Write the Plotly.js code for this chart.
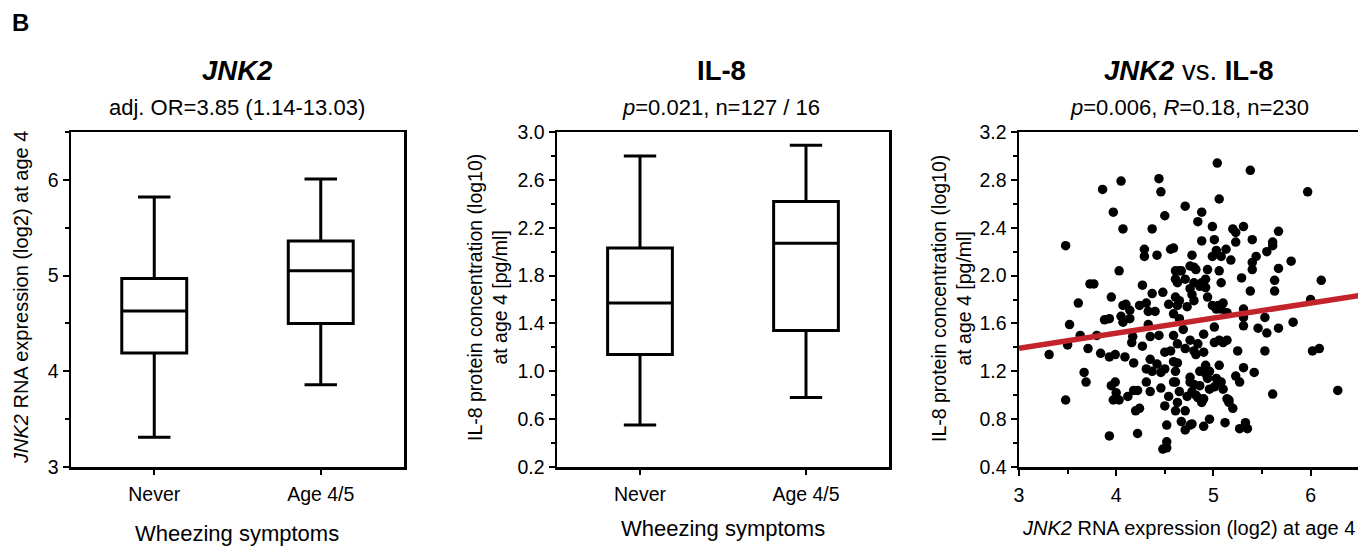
<!DOCTYPE html>
<html>
<head>
<meta charset="utf-8">
<script src="https://cdn.plot.ly/plotly-3.0.1.min.js"></script>
<style>html,body{margin:0;padding:0;background:#fff;}#chart{width:1358px;height:548px;}</style>
</head>
<body>
<div id="chart"></div>
<script>
// ---------- DATA ----------
const boxCategories = ['Never', 'Age 4/5'];

// Panel 1: JNK2 RNA expression (log2)
const jnk2Lower  = [3.31, 3.86];
const jnk2Q1     = [4.19, 4.50];
const jnk2Median = [4.63, 5.05];
const jnk2Q3     = [4.97, 5.36];
const jnk2Upper  = [5.82, 6.01];

// Panel 2: IL-8 protein concentration (log10)
const il8Lower  = [0.55, 0.78];
const il8Q1     = [1.14, 1.34];
const il8Median = [1.57, 2.07];
const il8Q3     = [2.03, 2.42];
const il8Upper  = [2.80, 2.89];

// Panel 3: JNK2 vs IL-8 scatter
const scatterJnk2 = [
  3.31,3.48,3.48,3.50,3.52,3.61,3.63,3.67,3.69,3.71,3.73,3.77,3.80,3.84,3.86,3.88,3.93,3.93,3.95,3.93,
  3.95,3.97,3.97,3.99,3.99,4.03,4.03,4.05,4.05,4.07,4.07,4.07,4.09,4.12,4.14,4.14,4.16,4.18,4.18,4.20,
  4.22,4.22,4.24,4.27,4.27,4.29,4.29,4.31,4.33,4.33,4.31,4.35,4.35,4.35,4.37,4.37,4.40,4.42,4.42,4.44,
  4.44,4.46,4.46,4.48,4.50,4.50,4.50,4.50,4.48,4.52,4.52,4.54,4.54,4.56,4.59,4.59,4.59,4.61,4.61,4.61,
  4.61,4.61,4.61,4.63,4.63,4.63,4.63,4.63,4.65,4.65,4.65,4.67,4.69,4.71,4.71,4.71,4.71,4.73,4.73,4.76,
  4.76,4.76,4.76,4.76,4.78,4.78,4.78,4.78,4.80,4.80,4.80,4.80,4.82,4.82,4.82,4.84,4.86,4.86,4.88,4.88,
  4.88,4.90,4.90,4.90,4.90,4.92,4.92,4.92,4.94,4.94,4.96,4.96,4.99,4.99,5.01,5.01,5.01,5.03,5.03,5.04,
  5.05,5.06,5.06,5.06,5.08,5.08,5.08,5.10,5.10,5.12,5.14,5.14,5.14,5.16,5.18,5.20,5.23,5.23,5.23,5.27,
  5.29,5.31,5.31,5.31,5.31,5.31,5.33,5.35,5.38,5.40,5.40,5.40,5.42,5.46,5.53,5.53,5.55,5.55,5.61,5.61,
  5.61,5.63,5.63,5.67,5.67,5.67,5.80,5.82,5.97,6.00,6.02,6.09,6.11,6.28,4.56,4.52,4.59,4.67,4.71,4.76,
  4.84,4.86,4.88,4.94,4.99,5.01,5.03,5.10,5.16,5.27,4.46,4.37,4.31,4.24,4.10,4.00,4.17,4.59,4.65,4.80,
  4.84,4.92,4.96,5.08,5.13,5.20,5.25,5.38,5.44,5.06
];
const scatterIl8 = [
  1.34,2.25,0.96,1.42,1.59,1.77,1.50,1.19,1.11,1.39,1.93,1.93,1.50,1.35,2.72,1.63,1.64,0.66,1.82,1.32,
  1.08,2.53,0.96,1.11,1.34,2.04,0.96,2.79,1.66,1.75,2.39,1.61,1.32,0.99,1.71,1.64,1.44,1.27,1.04,0.87,
  1.04,0.68,0.89,1.92,1.41,2.22,2.16,1.77,1.70,1.59,1.22,1.49,1.30,1.03,2.39,1.85,1.70,2.17,1.26,2.81,
  1.50,2.70,1.19,1.86,2.50,1.36,1.22,0.91,0.55,0.61,0.56,1.76,0.99,2.22,2.23,1.68,1.50,2.04,1.97,1.82,
  1.20,1.11,0.87,1.94,1.75,1.43,1.27,0.94,2.04,1.64,1.03,2.04,1.55,2.58,1.97,1.39,0.87,1.74,0.99,2.08,
  1.89,1.46,1.15,0.75,2.17,1.84,1.03,0.76,2.07,1.79,1.37,1.09,2.05,1.34,1.00,2.45,1.91,1.08,2.53,2.29,
  1.94,1.51,1.36,0.97,0.74,1.97,1.25,1.18,1.82,2.05,1.05,1.20,2.41,2.16,2.30,1.57,1.44,2.21,1.14,2.94,
  1.75,2.64,2.04,1.25,2.16,1.72,1.11,1.44,1.77,0.77,1.69,1.46,0.97,0.96,2.13,2.39,2.28,2.36,1.16,0.72,
  1.98,2.41,1.72,1.65,1.58,1.23,0.77,0.72,2.88,2.30,2.11,2.05,1.19,1.56,1.65,1.37,2.20,1.52,2.28,2.25,
  1.01,1.96,1.87,2.37,2.06,1.56,2.12,1.61,2.70,1.80,1.37,1.39,1.96,1.04,1.37,0.75,1.11,0.78,0.71,1.11,
  0.98,1.20,0.94,1.14,1.75,1.07,1.72,1.05,0.94,1.11,1.06,1.20,1.11,1.75,1.76,1.02,1.49,1.28,1.79,1.94,
  1.43,1.90,0.80,1.94,2.22,0.89,1.37,1.87,2.16,1.46
];

// Linear fit
const fitIntercept = 1.014;
const fitSlope = 0.126;
const fitXRange = [3, 6.5];

// Tick values
const jnk2Ticks = [3, 4, 5, 6];
const il8BoxTicks = [0.2, 0.6, 1.0, 1.4, 1.8, 2.2, 2.6, 3.0];
const il8ScatterTicks = [0.4, 0.8, 1.2, 1.6, 2.0, 2.4, 2.8, 3.2];
const scatterXTicks = [3, 4, 5, 6];

// ---------- STYLE ----------
const FONT = 'Liberation Sans, Arial, Helvetica, sans-serif';
const W = 1358, H = 548;
const px = v => v / W;
const py = v => 1 - v / H;

const boxStyle = {
  type: 'box', x: boxCategories, boxpoints: false, hoverinfo: 'skip',
  line: { color: 'black', width: 3 }, fillcolor: 'rgba(0,0,0,0)',
  whiskerwidth: 0.5, width: 0.39, showlegend: false
};

const traces = [
  Object.assign({}, boxStyle, {
    q1: jnk2Q1, median: jnk2Median, q3: jnk2Q3,
    lowerfence: jnk2Lower, upperfence: jnk2Upper, xaxis: 'x', yaxis: 'y'
  }),
  Object.assign({}, boxStyle, {
    q1: il8Q1, median: il8Median, q3: il8Q3,
    lowerfence: il8Lower, upperfence: il8Upper, xaxis: 'x2', yaxis: 'y2'
  }),
  {
    type: 'scatter', mode: 'markers', x: scatterJnk2, y: scatterIl8,
    xaxis: 'x3', yaxis: 'y3', showlegend: false, hoverinfo: 'skip',
    marker: { color: 'black', size: 9.5 }
  },
  {
    type: 'scatter', mode: 'lines', x: fitXRange,
    y: fitXRange.map(v => fitIntercept + fitSlope * v),
    xaxis: 'x3', yaxis: 'y3', showlegend: false, hoverinfo: 'skip',
    line: { color: '#c3242b', width: 5.5 }
  }
];

const tickFont = { family: FONT, size: 19.5, color: 'black' };
const baseAxis = {
  showline: true, linewidth: 2.5, linecolor: 'black', mirror: true,
  ticks: 'outside', ticklen: 6, tickwidth: 2, tickcolor: 'black',
  showgrid: false, zeroline: false, tickfont: tickFont, fixedrange: true
};
const yDomain = [py(467), py(132)];

const layout = {
  width: W, height: H,
  margin: { l: 0, r: 0, t: 0, b: 0, pad: 0 },
  paper_bgcolor: 'white', plot_bgcolor: 'white',
  font: { family: FONT, color: 'black' },
  showlegend: false,
  xaxis: Object.assign({}, baseAxis, {
    domain: [px(71), px(404)], anchor: 'y', type: 'category', range: [-0.5, 1.5],
    ticklen: 5, ticklabelstandoff: 3
  }),
  yaxis: Object.assign({}, baseAxis, {
    domain: yDomain, anchor: 'x', range: [3, 6.5], tickvals: jnk2Ticks,
    minor: { dtick: 0.5, tick0: 3, ticks: 'outside', ticklen: 4, tickwidth: 2, tickcolor: 'black' }
  }),
  xaxis2: Object.assign({}, baseAxis, {
    domain: [px(557), px(889)], anchor: 'y2', type: 'category', range: [-0.5, 1.5],
    ticklen: 5, ticklabelstandoff: 3
  }),
  yaxis2: Object.assign({}, baseAxis, {
    domain: yDomain, anchor: 'x2', range: [0.2, 3.0], tickvals: il8BoxTicks, tickformat: '.1f',
    minor: { dtick: 0.2, tick0: 0.2, ticks: 'outside', ticklen: 4, tickwidth: 2, tickcolor: 'black' }
  }),
  xaxis3: Object.assign({}, baseAxis, {
    domain: [px(1019), 1], anchor: 'y3', range: [3, 6.488], tickvals: scatterXTicks,
    ticklabelstandoff: 3,
    minor: { dtick: 0.5, tick0: 3, ticks: 'outside', ticklen: 4, tickwidth: 2, tickcolor: 'black' }
  }),
  yaxis3: Object.assign({}, baseAxis, {
    domain: yDomain, anchor: 'x3', range: [0.4, 3.2], tickvals: il8ScatterTicks, tickformat: '.1f',
    mirror: false,
    minor: { dtick: 0.2, tick0: 0.4, ticks: 'outside', ticklen: 4, tickwidth: 2, tickcolor: 'black' }
  }),
  annotations: []
};

function ann(text, x, y, size, extra) {
  layout.annotations.push(Object.assign({
    text: text, xref: 'paper', yref: 'paper', x: px(x), y: py(y),
    xanchor: 'center', yanchor: 'middle', showarrow: false,
    font: { family: FONT, size: size, color: 'black' }
  }, extra || {}));
}

ann('<b>B</b>', 10, 23, 24, { xanchor: 'left' });

// Titles
ann('<b><i>JNK2</i></b>', 237, 70, 27.5);
ann('adj. OR=3.85 (1.14-13.03)', 237, 108, 22);
ann('<b>IL-8</b>', 721, 70, 27.5);
ann('<i>p</i>=0.021, n=127 / 16', 721, 108, 22);
ann('<b><i>JNK2</i></b> vs. <b>IL-8</b>', 1189, 70, 27.5);
ann('<i>p</i>=0.006, <i>R</i>=0.18, n=230', 1189, 108, 22);

// Axis titles
ann('<i>JNK2</i> RNA expression (log2) at age 4', 21, 298, 20, { textangle: -90 });
ann('IL-8 protein concentration (log10)<br>at age 4 [pg/ml]', 488, 298, 19.5, { textangle: -90 });
ann('IL-8 protein concentration (log10)<br>at age 4 [pg/ml]', 952, 298, 19.5, { textangle: -90 });
ann('Wheezing symptoms', 237, 533, 22);
ann('Wheezing symptoms', 723, 528, 22);
ann('<i>JNK2</i> RNA expression (log2) at age 4', 1188, 528, 20);

Plotly.newPlot('chart', traces, layout, { staticPlot: true, displayModeBar: false });
</script>
</body>
</html>
